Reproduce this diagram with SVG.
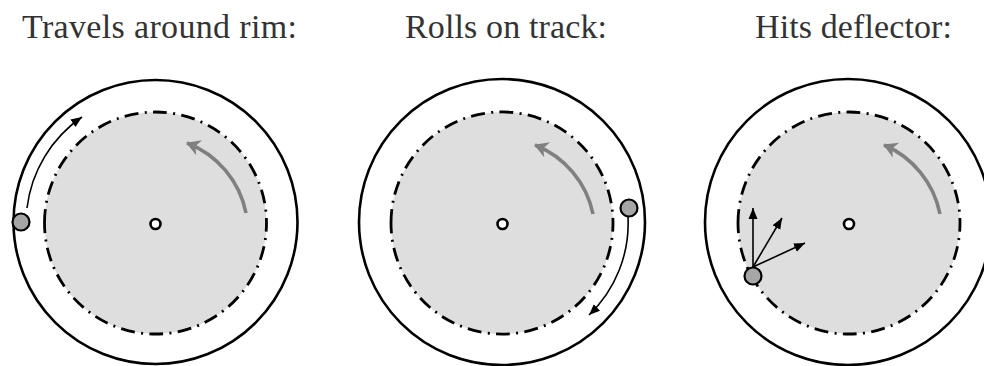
<svg xmlns="http://www.w3.org/2000/svg" width="984" height="366" viewBox="0 0 984 366">
<style>
.title{font-family:"Liberation Serif","Times New Roman",serif;font-size:34px;fill:#333}
.rim{fill:none;stroke:#000;stroke-width:2.6}
.track{fill:#dedede;stroke:#000;stroke-width:2.8;stroke-dasharray:14 6.3 2 6.3}
.hub{fill:#fff;stroke:#000;stroke-width:2.6}
.ball{fill:#a6a6a6;stroke:#000;stroke-width:2.2}
.thin{fill:none;stroke:#000;stroke-width:1.6;marker-end:url(#ah)}
.spin{fill:none;stroke:#808080;stroke-width:3.6;marker-end:url(#gh)}
</style>
<defs>
<marker id="ah" markerUnits="userSpaceOnUse" markerWidth="14" markerHeight="12" refX="11" refY="6" orient="auto"><path d="M0,1.5 L11,6 L0,10.5 z" fill="#000"/></marker>
<marker id="gh" markerUnits="userSpaceOnUse" markerWidth="18" markerHeight="18" refX="14" refY="9" orient="auto"><path d="M1,1 L15,9 L1,17 L5,9 z" fill="#808080"/></marker>
</defs>
<rect width="984" height="366" fill="#fff"/>
<g id="titles">
<text class="title" x="22" y="38" textLength="275">Travels around rim:</text>
<text class="title" x="405" y="38" textLength="202">Rolls on track:</text>
<text class="title" x="755" y="38" textLength="197">Hits deflector:</text>
</g>
<g id="wheel1">
<circle class="rim" cx="155.5" cy="222" r="142"/>
<path class="track" d="M44.5,223 A111,111 0 1 1 266.5,223 A111,111 0 1 1 44.5,223"/>
<circle class="hub" cx="155.5" cy="224" r="5"/>
<circle class="ball" cx="21" cy="222" r="8.5"/>
</g>
<g id="wheel2">
<circle class="rim" cx="502" cy="222" r="143"/>
<path class="track" d="M391,223 A111,111 0 1 1 613,223 A111,111 0 1 1 391,223"/>
<circle class="hub" cx="502.5" cy="224" r="5"/>
<circle class="ball" cx="629" cy="208" r="8.5"/>
</g>
<g id="wheel3">
<circle class="rim" cx="848" cy="222" r="143"/>
<path class="track" d="M738,223 A111,111 0 1 1 960,223 A111,111 0 1 1 738,223"/>
<circle class="hub" cx="849" cy="224" r="5"/>
<circle class="ball" cx="753" cy="276" r="8.5"/>
</g>
<g id="connectors">
<path class="spin" d="M246,213 A95,95 0 0 0 187,143"/>
<path class="spin" d="M593,214 A95,95 0 0 0 535,145"/>
<path class="spin" d="M940,214 A95,95 0 0 0 884,145"/>
<path class="thin" d="M27,208 A129,129 0 0 1 82,117"/>
<path class="thin" d="M628,217 A127,127 0 0 1 589,315"/>
<path class="thin" d="M753,267 L753,208"/>
<path class="thin" d="M753,267 L782,218"/>
<path class="thin" d="M753,267 L805,243"/>
</g>
</svg>
